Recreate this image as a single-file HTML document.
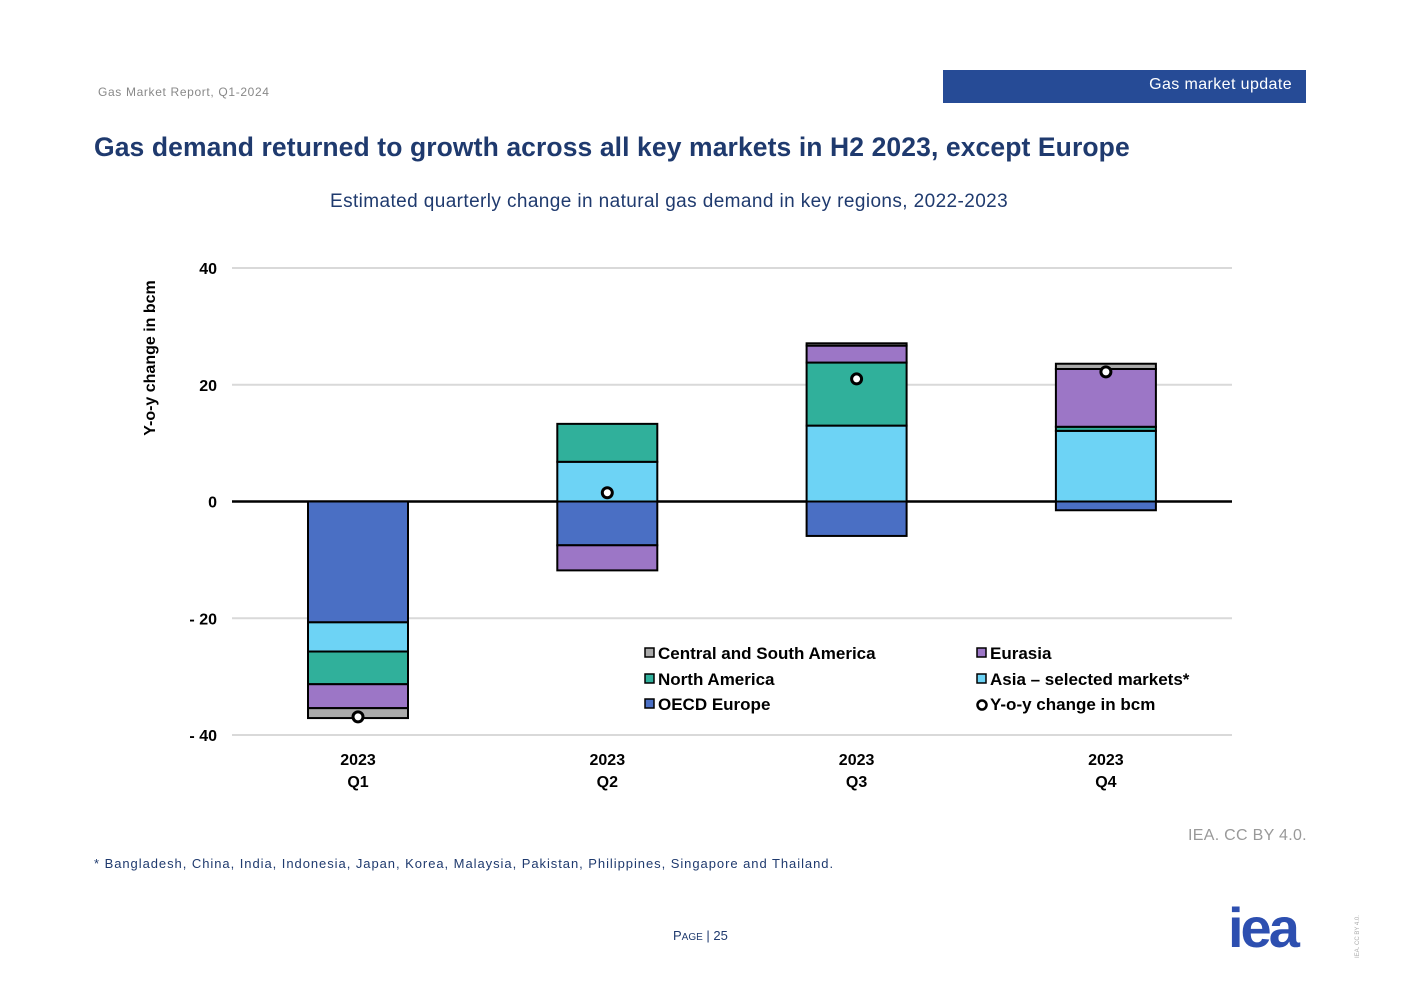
<!DOCTYPE html>
<html><head><meta charset="utf-8"><style>
body{margin:0;width:1403px;height:992px;background:#fff;font-family:"Liberation Sans",sans-serif;position:relative;overflow:hidden}
.a{position:absolute}
</style></head><body>
<div class="a" style="left:98px;top:85px;font-size:12px;color:#888;letter-spacing:0.65px">Gas Market Report, Q1-2024</div>
<div class="a" style="left:943px;top:70px;width:363px;height:33px;background:#264b96;color:#fff;font-size:16px;letter-spacing:0.4px;text-align:right;box-sizing:border-box;padding:6px 14px 0 0">Gas market update</div>
<div class="a" style="left:94px;top:132px;font-size:26.5px;font-weight:bold;color:#1f3a6e;letter-spacing:0.1px">Gas demand returned to growth across all key markets in H2 2023, except Europe</div>
<div class="a" style="left:330px;top:191px;font-size:19px;letter-spacing:0.4px;color:#1f3a6e;white-space:nowrap">Estimated quarterly change in natural gas demand in key regions, 2022-2023</div>
<svg class="a" style="left:0;top:0" width="1403" height="992" id="svg"></svg>
<div class="a" style="left:1188px;top:827px;font-size:16px;color:#999;letter-spacing:0.3px">IEA. CC BY 4.0.</div>
<div class="a" style="left:94px;top:856px;font-size:13px;color:#1f3a6e;letter-spacing:0.95px">* Bangladesh, China, India, Indonesia, Japan, Korea, Malaysia, Pakistan, Philippines, Singapore and Thailand.</div>
<div class="a" style="left:673px;top:928px;font-size:13px;color:#1f3a6e">P<span style="font-size:10px">AGE</span> | 25</div>
<div class="a" style="left:1228px;top:898px;font-size:56px;font-weight:bold;color:#2d4fb0;letter-spacing:-3px;line-height:60px">iea</div>
<div class="a" style="left:1355px;top:958px;font-size:6px;color:#aaa;transform:rotate(-90deg);transform-origin:0 0;white-space:nowrap">IEA. CC BY 4.0.</div>
<script>
const categories=["2023|Q1","2023|Q2","2023|Q3","2023|Q4"];
const oecdEurope=[-20.7,-7.5,-5.9,-1.5];
const asia=[-5.0,6.8,13.0,12.1];
const northAmerica=[-5.6,6.5,10.8,0.7];
const eurasia=[-4.1,-4.3,2.9,9.9];
const centralSouthAmerica=[-1.7,0,0.4,0.9];
const yoyTotal=[-36.9,1.5,21.0,22.2];
const yTicks=[40,20,0,-20,-40];
const yTickLabels=["40","20","0","- 20","- 40"];
const series=[["OECD Europe",oecdEurope,"#4a6fc4"],["Asia",asia,"#6dd3f5"],["North America",northAmerica,"#30b09b"],["Eurasia",eurasia,"#9c76c6"],["Central and South America",centralSouthAmerica,"#aaaaaa"]];
const svg=document.getElementById('svg');const NS="http://www.w3.org/2000/svg";
function y(v){return 501.5-v*(467/80);}
function x(i){return 358+i*249.3;}
function mk(t,a,p){const e=document.createElementNS(NS,t);for(const k in a)e.setAttribute(k,a[k]);(p||svg).appendChild(e);return e;}
yTicks.forEach((t,i)=>{
 const l=mk('line',{x1:232,x2:1232,y1:y(t),y2:y(t),stroke:t===0?'#000':'#d9d9d9','stroke-width':t===0?2.5:2});
 
 
 const tx=mk('text',{x:217,y:y(t)+6,'text-anchor':'end','font-size':16,'font-weight':'bold',fill:'#000'});tx.textContent=yTickLabels[i];
 
 
});
const yt=mk('text',{transform:'translate(155,358) rotate(-90)','text-anchor':'middle','font-size':16,'font-weight':'bold'});yt.textContent='Y-o-y change in bcm';


categories.forEach((c,i)=>{
 let pos=0,neg=0;
 series.forEach(s=>{const v=s[1][i];if(!v)return;let a,b;
  if(v>0){a=pos;b=pos+v;pos=b;}else{a=neg;b=neg+v;neg=b;}
  const r=mk('rect',{x:x(i)-50,y:Math.min(y(a),y(b)),width:100,height:Math.abs(y(a)-y(b)),fill:s[2],stroke:'#000','stroke-width':2});
  
  
 });
 const d=mk('circle',{cx:x(i),cy:y(yoyTotal[i]),r:5,fill:'#fff',stroke:'#000','stroke-width':3});
 
 
 c.split('|').forEach((p,j)=>{const t=mk('text',{x:x(i),y:765+j*22,'text-anchor':'middle','font-size':16,'font-weight':'bold'});t.textContent=p;
  
  });
});
const leg=[["Central and South America","#aaaaaa",645,653],["Eurasia","#9c76c6",977,653],["North America","#30b09b",645,679],["Asia – selected markets*","#6dd3f5",977,679],["OECD Europe","#4a6fc4",645,704]];
leg.forEach(l=>{const r=mk('rect',{x:l[2],y:l[3]-5,width:9,height:9,fill:l[1],stroke:'#000','stroke-width':1.5});
 
 
 const t=mk('text',{x:l[2]+13,y:l[3]+6,'font-size':17,'font-weight':'bold'});t.textContent=l[0];
 
 });
const lc=mk('circle',{cx:982,cy:705,r:4.5,fill:'#fff',stroke:'#000','stroke-width':2.5});


const lt=mk('text',{x:990,y:710,'font-size':17,'font-weight':'bold'});lt.textContent='Y-o-y change in bcm';


</script>
</body></html>
